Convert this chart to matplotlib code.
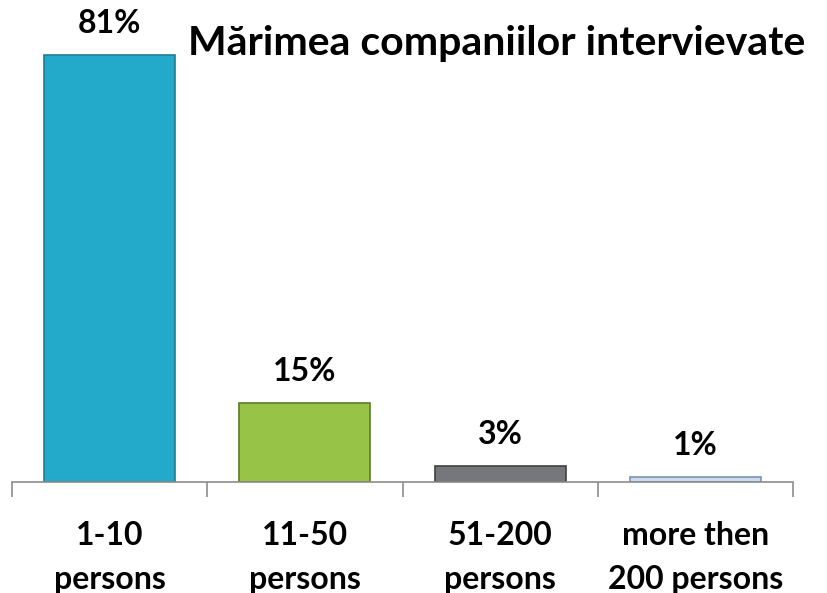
import matplotlib
matplotlib.use('Agg')
import matplotlib.pyplot as plt
import numpy as np

categories = ['1-10\npersons', '11-50\npersons', '51-200\npersons', 'more then\n200 persons']
values = [81, 15, 3, 1]
labels = ['81%', '15%', '3%', '1%']
colors = ['#23A9C9', '#97C447', '#76777B', '#C6DAF0']
edges = ['#1E7E96', '#5C7B2A', '#3F3F3F', '#8193A6']

plt.rcParams['font.family'] = ['Lato', 'DejaVu Sans']

fig = plt.figure(figsize=(8.27, 5.93), dpi=100)
ax = fig.add_axes([12 / 827, 1 - 482 / 593, 781 / 827, 448 / 593])

x = np.arange(len(values))
bars = ax.bar(x, values, width=0.67, color=colors, edgecolor=edges, linewidth=1.2)
for b, lab in zip(bars, labels):
    ax.text(b.get_x() + b.get_width() / 2, b.get_height() + 3.2, lab,
            ha='center', va='bottom', fontsize=23, fontweight='bold')

ax.set_xlim(-0.5, len(values) - 0.5)
ax.set_ylim(0, 85)
ax.set_xticks(x)
ax.set_xticklabels(categories, fontsize=23, fontweight='bold', linespacing=1.65)
ax.set_xticks(np.arange(-0.5, len(values)), minor=True)
ax.tick_params(axis='x', which='major', length=0, pad=28)
ax.tick_params(axis='x', which='minor', length=11, color='#8C8C8C', width=1.2)
ax.set_yticks([])
for s in ['top', 'right', 'left']:
    ax.spines[s].set_visible(False)
ax.spines['bottom'].set_color('#8C8C8C')
ax.spines['bottom'].set_linewidth(1.2)

fig.text(0.974, 1 - 43 / 593, 'Mărimea companiilor intervievate', ha='right', va='center',
         fontsize=29.5, fontweight='bold')

fig.savefig('out.png', dpi=100)
